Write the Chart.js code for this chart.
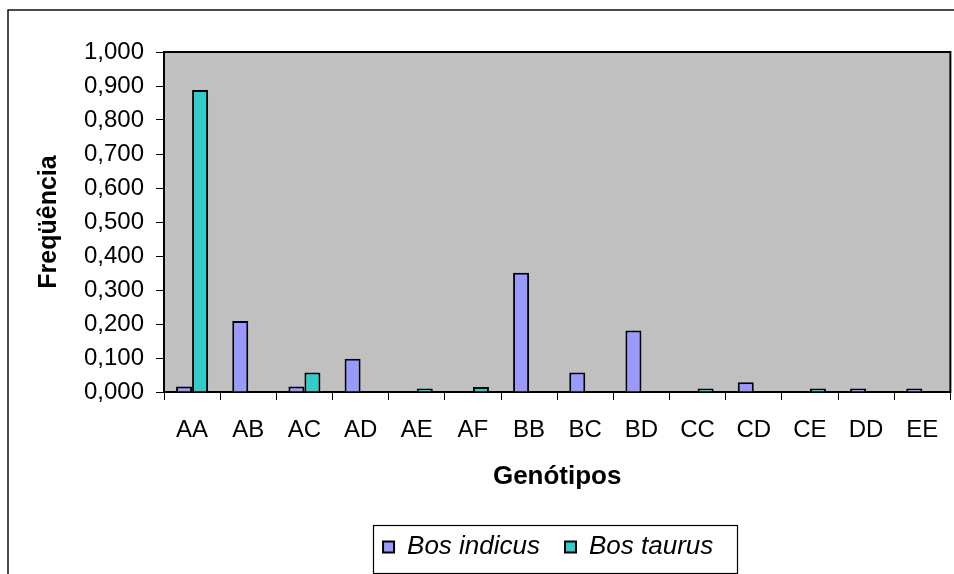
<!DOCTYPE html>
<html>
<head>
<meta charset="utf-8">
<title>Freqüência genotípica</title>
<script src="https://cdn.jsdelivr.net/npm/chart.js@4/dist/chart.umd.min.js"></script>
<style>
  html, body { margin: 0; padding: 0; background: #ffffff; }
  #wrap { width: 954px; height: 574px; }
</style>
</head>
<body>
<div id="wrap"><canvas id="chart" width="954" height="574"></canvas></div>
<script>
// Genotype categories
const genotypes = ['AA', 'AB', 'AC', 'AD', 'AE', 'AF', 'BB', 'BC', 'BD', 'CC', 'CD', 'CE', 'DD', 'EE'];

// Genotype frequencies per group
const bosIndicus = [0.016, 0.209, 0.016, 0.098, 0, 0, 0.351, 0.057, 0.181, 0, 0.029, 0, 0.010, 0.010];
const bosTaurus  = [0.888, 0, 0.057, 0, 0.010, 0.015, 0, 0, 0, 0.010, 0, 0.010, 0, 0];

// Series names and value-axis tick labels
const seriesNames = ['Bos indicus', 'Bos taurus'];
const yTickLabels = ['0,000', '0,100', '0,200', '0,300', '0,400', '0,500',
                     '0,600', '0,700', '0,800', '0,900', '1,000'];

const FONT = "'Liberation Sans', Arial, Helvetica, sans-serif";
Chart.defaults.color = '#000000';
Chart.defaults.font.family = FONT;

// Grey plot area with a frame, and the outer chart frame
const frames = {
  id: 'frames',
  beforeDraw(chart) {
    const { ctx, chartArea: a } = chart;
    ctx.save();
    ctx.fillStyle = '#c0c0c0';
    ctx.fillRect(a.left, a.top, a.right - a.left, a.bottom - a.top);
    ctx.strokeStyle = '#000000';
    ctx.lineWidth = 2;
    ctx.strokeRect(a.left, a.top, a.right - a.left, a.bottom - a.top);
    ctx.lineWidth = 1.5;
    ctx.strokeStyle = '#111111';
    ctx.strokeRect(8, 10, 1000, 700);
    ctx.restore();
  },
  afterLayout(chart) {
    // centre the legend row slightly left of the plot centre
    const lg = chart.legend;
    const a = chart.chartArea;
    lg.left = a.left - 16;
    lg.right = a.right - 2;
  },
  afterDraw(chart) {
    // frame around the legend
    const lg = chart.legend;
    if (!lg || !lg.lineWidths) return;
    const opts = lg.options.labels;
    const pad = opts.padding;
    const fontSize = opts.font.size;
    const total = lg.lineWidths[0];
    const startX = (lg.left + pad + lg.right - total) / 2;
    const mid = lg.top + pad + fontSize / 2;
    const { ctx } = chart;
    ctx.save();
    ctx.strokeStyle = '#000000';
    ctx.lineWidth = 1.2;
    ctx.strokeRect(Math.round(startX - 10) + 0.5, Math.round(mid - 22) + 0.5,
                   Math.round(total - pad + 34), 48);
    ctx.restore();
  }
};

new Chart(document.getElementById('chart'), {
  type: 'bar',
  data: {
    labels: genotypes,
    datasets: [
      {
        label: seriesNames[0],
        data: bosIndicus,
        backgroundColor: '#9999ff',
        borderColor: '#000000',
        borderWidth: 2,
        borderSkipped: 'start'
      },
      {
        label: seriesNames[1],
        data: bosTaurus,
        backgroundColor: '#33cccc',
        borderColor: '#000000',
        borderWidth: 2,
        borderSkipped: 'start'
      }
    ]
  },
  options: {
    responsive: false,
    animation: false,
    devicePixelRatio: 1,
    layout: { padding: { top: 52, right: 3, bottom: 4, left: 0 } },
    datasets: {
      bar: { categoryPercentage: 0.57, barPercentage: 1.0 }
    },
    plugins: {
      tooltip: { enabled: false },
      legend: {
        position: 'bottom',
        labels: {
          font: { family: FONT, size: 26, style: 'italic' },
          color: '#000000',
          boxWidth: 11,
          boxHeight: 11,
          padding: 25
        }
      }
    },
    scales: {
      x: {
        offset: true,
        afterFit(scale) { scale.height = 117; },
        grid: {
          display: true,
          offset: true,
          drawOnChartArea: false,
          drawTicks: true,
          tickLength: 8,
          color: '#000000',
          lineWidth: 1
        },
        border: { display: true, color: '#000000', width: 2 },
        ticks: {
          font: { family: FONT, size: 24 },
          color: '#000000',
          padding: 15.6,
          maxRotation: 0,
          autoSkip: false
        },
        title: {
          display: true,
          text: 'Genótipos',
          font: { family: FONT, size: 26, weight: 'bold' },
          color: '#000000',
          padding: { top: 0, bottom: 16.4 }
        }
      },
      y: {
        min: 0,
        max: 1,
        afterFit(scale) { scale.width = 164; },
        grid: {
          display: true,
          drawOnChartArea: false,
          drawTicks: true,
          tickLength: 8,
          color: '#000000',
          lineWidth: 1
        },
        border: { display: true, color: '#000000', width: 2 },
        ticks: {
          stepSize: 0.1,
          font: { family: FONT, size: 24 },
          color: '#000000',
          padding: 12,
          callback: (value, index) => yTickLabels[index]
        },
        title: {
          display: true,
          text: 'Freqüência',
          font: { family: FONT, size: 25, weight: 'bold' },
          color: '#000000',
          padding: { top: 34.3, bottom: 0 }
        }
      }
    }
  },
  plugins: [frames]
});
</script>
</body>
</html>
